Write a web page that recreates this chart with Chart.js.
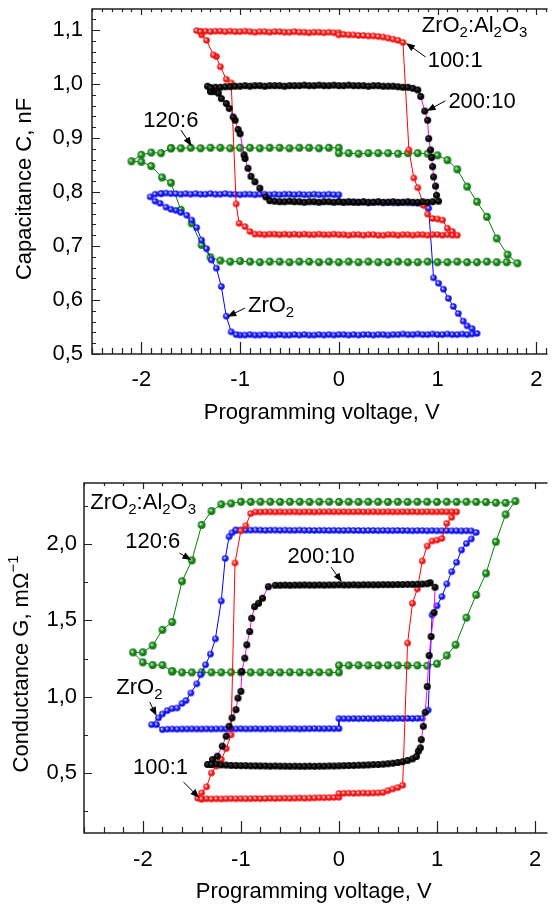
<!DOCTYPE html>
<html lang="en">
<head>
<meta charset="UTF-8">
<title>C-V and G-V hysteresis</title>
<script src="https://cdn.jsdelivr.net/npm/chart.js"></script>
<style>
  body, html { margin: 0; padding: 0; background: #fff; overflow: hidden; }
  .box { position: absolute; left: 0; width: 552px; }
  #top { top: 0; height: 440px; }
  #bottom { top: 440px; height: 469px; }
</style>
</head>
<body>
<div class="box" id="top"><canvas id="capChart" width="552" height="440"></canvas></div>
<div class="box" id="bottom"><canvas id="condChart" width="552" height="469"></canvas></div>
<script>
// ---- tick labels ----
const voltTicks = [-2, -1, 0, 1, 2];
const capTicks = [0.5, 0.6, 0.7, 0.8, 0.9, 1.0, 1.1];
const condTicks = [0.5, 1.0, 1.5, 2.0];

// ---- capacitance (top) ----
const capRedV = [-1.40,-1.35,-1.30,-1.25,-1.20,-1.15,-1.10,-1.05,-1.00,-0.95,-0.90,-0.85,-0.80,-0.75,-0.70,-0.65,-0.60,-0.55,-0.50,-0.45,-0.40,-0.35,-0.30,-0.25,-0.20,-0.15,-0.10,-0.05,0.00,
  0.00,0.05,0.10,0.15,0.20,0.25,0.30,0.35,0.40,0.45,0.50,0.55,0.60,0.65,
  0.71,0.76,0.80,0.86,0.90,0.95,1.00,1.05,1.10,1.15,1.20,
  1.15,1.10,1.05,1.00,0.95,0.90,0.85,0.80,0.75,0.70,0.65,0.60,0.55,0.50,0.45,0.40,0.35,0.30,0.25,0.20,0.15,0.10,0.05,0.00,-0.05,-0.10,-0.15,-0.20,-0.25,-0.30,-0.35,-0.40,-0.45,-0.50,-0.55,-0.60,-0.65,-0.70,-0.75,-0.80,-0.85,
  -0.90,-0.95,-1.01,-1.04,-1.09,-1.14,-1.20,-1.24,-1.27,-1.34,-1.39,-1.44,-1.40];
const capRedC = [1.097,1.098,1.097,1.098,1.098,1.097,1.098,1.097,1.097,1.098,1.097,1.096,1.097,1.097,1.096,1.097,1.097,1.096,1.096,1.097,1.096,1.096,1.095,1.096,1.096,1.095,1.096,1.095,1.095,
  1.091,1.092,1.091,1.091,1.090,1.090,1.089,1.089,1.088,1.087,1.085,1.083,1.081,1.077,
  0.878,0.826,0.808,0.775,0.759,0.751,0.750,0.748,0.733,0.727,0.720,
  0.720,0.721,0.720,0.721,0.721,0.720,0.721,0.721,0.720,0.721,0.721,0.720,0.721,0.721,0.720,0.720,0.721,0.721,0.720,0.721,0.721,0.720,0.721,0.721,0.722,0.721,0.721,0.722,0.721,0.721,0.722,0.721,0.722,0.721,0.722,0.721,0.722,0.722,0.721,0.722,0.722,
  0.727,0.736,0.742,0.778,1.002,1.009,1.032,1.051,1.054,1.081,1.091,1.099,1.097];

const capBlueV = [-1.80,-1.75,-1.70,-1.65,-1.60,-1.55,-1.50,-1.45,-1.40,-1.35,-1.30,-1.25,-1.20,-1.15,-1.10,-1.05,-1.00,-0.95,-0.90,-0.85,-0.80,-0.75,-0.70,-0.65,-0.60,-0.55,-0.50,-0.45,-0.40,-0.35,-0.30,-0.25,-0.20,-0.15,-0.10,-0.05,0.00,
  0.00,0.05,0.10,0.15,0.20,0.25,0.30,0.35,0.40,0.45,0.50,0.55,0.60,0.65,0.70,0.75,0.80,0.85,0.91,
  0.96,1.01,1.06,1.11,1.16,1.21,1.26,1.30,1.35,1.40,
  1.35,1.30,1.25,1.20,1.15,1.10,1.05,1.00,0.95,0.90,0.85,0.80,0.75,0.70,0.65,0.60,0.55,0.50,0.45,0.40,0.35,0.30,0.25,0.20,0.15,0.10,0.05,0.00,-0.05,-0.10,-0.15,-0.20,-0.25,-0.30,-0.35,-0.40,-0.45,-0.50,-0.55,-0.60,-0.65,-0.70,-0.75,-0.80,-0.85,-0.90,-0.95,-1.00,
  -1.04,-1.09,-1.14,-1.19,-1.24,-1.29,-1.34,-1.39,-1.44,-1.49,-1.54,-1.60,-1.65,-1.70,-1.75,-1.81,-1.86,-1.91,-1.86,-1.80];
const capBlueC = [0.797,0.798,0.797,0.797,0.796,0.797,0.796,0.797,0.796,0.796,0.797,0.796,0.796,0.797,0.796,0.796,0.795,0.796,0.796,0.795,0.796,0.796,0.795,0.796,0.795,0.796,0.796,0.795,0.796,0.795,0.795,0.796,0.795,0.795,0.796,0.795,0.795,
  0.782,0.781,0.781,0.782,0.781,0.781,0.780,0.781,0.781,0.780,0.781,0.780,0.780,0.781,0.780,0.780,0.779,0.778,0.770,
  0.641,0.631,0.620,0.603,0.588,0.575,0.561,0.552,0.547,0.538,
  0.537,0.536,0.537,0.536,0.536,0.537,0.536,0.536,0.537,0.536,0.536,0.537,0.536,0.536,0.537,0.536,0.536,0.535,0.536,0.536,0.535,0.536,0.536,0.535,0.536,0.535,0.536,0.536,0.535,0.536,0.535,0.536,0.535,0.535,0.536,0.535,0.536,0.535,0.535,0.536,0.535,0.535,0.536,0.535,0.535,0.536,0.535,0.535,
  0.536,0.541,0.570,0.625,0.659,0.674,0.695,0.711,0.734,0.748,0.757,0.762,0.766,0.768,0.772,0.779,0.783,0.791,0.796,0.797];

const capBlackV = [-1.30,-1.25,-1.20,-1.15,-1.10,-1.05,-1.00,-0.95,-0.90,-0.85,-0.80,-0.75,-0.70,-0.65,-0.60,-0.55,-0.50,-0.45,-0.40,-0.35,-0.30,-0.25,-0.20,-0.15,-0.10,-0.05,0.00,0.05,0.10,0.15,0.20,0.25,0.30,0.35,0.40,0.45,0.50,0.55,0.60,0.65,0.70,0.75,0.80,
  0.83,0.87,0.90,0.91,0.93,0.94,0.95,0.96,0.98,0.99,1.01,
  0.95,0.90,0.85,0.80,0.75,0.70,0.65,0.60,0.55,0.50,0.45,0.40,0.35,0.30,0.25,0.20,0.15,0.10,0.05,0.00,-0.05,-0.10,-0.15,-0.20,-0.25,-0.30,-0.35,-0.40,-0.45,-0.50,-0.55,-0.60,-0.65,-0.70,
  -0.74,-0.80,-0.85,-0.89,-0.92,-0.95,-0.96,-1.00,-1.02,-1.05,-1.07,-1.11,-1.14,-1.19,-1.22,-1.27,-1.30,-1.33,-1.30];
const capBlackC = [0.993,0.994,0.994,0.995,0.995,0.996,0.996,0.997,0.996,0.997,0.997,0.996,0.997,0.997,0.997,0.996,0.997,0.997,0.997,0.998,0.997,0.997,0.998,0.997,0.997,0.998,0.997,0.997,0.998,0.997,0.997,0.997,0.996,0.997,0.997,0.996,0.996,0.996,0.995,0.994,0.994,0.992,0.989,
  0.977,0.950,0.933,0.899,0.878,0.864,0.847,0.828,0.811,0.794,0.783,
  0.782,0.781,0.782,0.781,0.781,0.782,0.781,0.781,0.782,0.781,0.781,0.782,0.781,0.781,0.782,0.781,0.781,0.782,0.781,0.782,0.781,0.782,0.782,0.781,0.782,0.782,0.781,0.782,0.782,0.783,0.782,0.782,0.783,0.784,
  0.791,0.807,0.819,0.829,0.844,0.862,0.869,0.908,0.916,0.933,0.939,0.955,0.964,0.973,0.983,0.986,0.986,0.996,0.993];

const capGreenV = [-1.70,-1.60,-1.50,-1.40,-1.30,-1.20,-1.10,-1.00,-0.90,-0.80,-0.70,-0.60,-0.50,-0.40,-0.30,-0.20,-0.10,0.00,
  0.00,0.10,0.20,0.30,0.40,0.50,0.60,0.70,0.80,0.90,
  1.00,1.10,1.20,1.30,1.40,1.50,1.60,1.71,1.81,
  1.70,1.60,1.50,1.40,1.30,1.20,1.10,1.00,0.90,0.80,0.70,0.60,0.50,0.40,0.30,0.20,0.10,0.00,-0.10,-0.20,-0.30,-0.40,-0.50,-0.60,-0.70,-0.80,-0.90,-1.00,-1.10,-1.20,-1.30,
  -1.39,-1.49,-1.60,-1.70,-1.79,-1.90,-2.00,-2.10,-2.00,-1.90,-1.80,-1.70];
const capGreenC = [0.881,0.881,0.882,0.881,0.882,0.882,0.881,0.882,0.882,0.881,0.882,0.882,0.881,0.882,0.882,0.881,0.882,0.882,
  0.872,0.872,0.871,0.872,0.872,0.872,0.871,0.872,0.872,0.871,
  0.868,0.859,0.842,0.810,0.782,0.754,0.714,0.684,0.668,
  0.670,0.670,0.671,0.670,0.670,0.671,0.670,0.670,0.671,0.670,0.670,0.671,0.670,0.670,0.671,0.670,0.671,0.670,0.671,0.670,0.671,0.671,0.670,0.671,0.671,0.670,0.671,0.672,0.671,0.673,0.679,
  0.702,0.742,0.767,0.817,0.827,0.848,0.856,0.857,0.869,0.873,0.872,0.881];

// ---- conductance (bottom) ----
const condRedV = [-1.40,-1.35,-1.30,-1.25,-1.20,-1.15,-1.10,-1.05,-1.00,-0.95,-0.90,-0.85,-0.80,-0.75,-0.70,-0.65,-0.60,-0.55,-0.50,-0.45,-0.40,-0.35,-0.30,-0.25,-0.20,-0.15,-0.10,-0.05,0.00,
  0.00,0.05,0.10,0.15,0.20,0.25,0.30,0.35,0.40,0.45,0.50,0.55,0.60,0.65,
  0.70,0.75,0.80,0.85,0.90,0.95,1.00,1.05,1.10,1.15,1.20,
  1.15,1.10,1.05,1.00,0.95,0.90,0.85,0.80,0.75,0.70,0.65,0.60,0.55,0.50,0.45,0.40,0.35,0.30,0.25,0.20,0.15,0.10,0.05,0.00,-0.05,-0.10,-0.15,-0.20,-0.25,-0.30,-0.35,-0.40,-0.45,-0.50,-0.55,-0.60,-0.65,-0.70,-0.75,-0.80,-0.85,
  -0.90,-0.95,-1.00,-1.06,-1.10,-1.15,-1.20,-1.25,-1.30,-1.35,-1.40,-1.44,-1.40];
const condRedG = [0.330,0.331,0.330,0.331,0.330,0.331,0.332,0.331,0.332,0.331,0.332,0.333,0.332,0.333,0.334,0.333,0.334,0.335,0.334,0.335,0.336,0.335,0.336,0.337,0.338,0.338,0.339,0.340,0.341,
  0.366,0.367,0.368,0.367,0.368,0.369,0.368,0.369,0.370,0.372,0.385,0.395,0.405,0.420,
  1.351,1.612,1.706,1.889,1.987,2.020,2.026,2.037,2.135,2.175,2.211,
  2.212,2.211,2.212,2.211,2.211,2.212,2.211,2.211,2.212,2.211,2.212,2.211,2.211,2.212,2.211,2.211,2.212,2.211,2.211,2.212,2.211,2.211,2.212,2.211,2.211,2.212,2.211,2.211,2.210,2.211,2.211,2.210,2.211,2.211,2.210,2.211,2.210,2.211,2.211,2.210,2.210,
  2.200,2.120,2.087,1.876,0.750,0.660,0.590,0.545,0.500,0.410,0.370,0.335,0.330];

const condBlueV = [-1.05,-1.00,-0.95,-0.90,-0.85,-0.80,-0.75,-0.70,-0.65,-0.60,-0.55,-0.50,-0.45,-0.40,-0.35,-0.30,-0.25,-0.20,-0.15,-0.10,-0.05,0.00,0.05,0.10,0.15,0.20,0.25,0.30,0.35,0.40,0.45,0.50,0.55,0.60,0.65,0.70,0.75,0.80,0.85,0.90,0.95,1.00,1.05,1.10,1.15,1.20,1.25,1.30,1.35,1.40,
  1.35,1.30,1.25,1.20,1.15,1.10,1.05,1.00,0.95,0.91,
  0.85,0.80,0.75,0.70,0.65,0.60,0.55,0.50,0.45,0.40,0.35,0.30,0.25,0.20,0.15,0.10,0.05,0.00,
  0.00,-0.05,-0.10,-0.15,-0.20,-0.25,-0.30,-0.35,-0.40,-0.45,-0.50,-0.55,-0.60,-0.65,-0.70,-0.75,-0.80,-0.85,-0.90,-0.95,-1.00,-1.05,-1.10,-1.15,-1.20,-1.25,-1.30,-1.35,-1.40,-1.45,-1.50,-1.55,-1.60,-1.65,-1.70,-1.75,
  -1.80,-1.86,-1.91,-1.84,-1.80,-1.75,-1.70,-1.65,-1.60,-1.56,-1.51,-1.45,-1.41,-1.36,-1.31,-1.26,-1.20,-1.16,-1.12,-1.09,-1.05];
const condBlueG = [2.091,2.092,2.091,2.091,2.092,2.091,2.090,2.091,2.091,2.090,2.091,2.090,2.090,2.091,2.090,2.090,2.089,2.090,2.090,2.089,2.090,2.089,2.089,2.090,2.089,2.089,2.088,2.089,2.089,2.088,2.089,2.088,2.088,2.089,2.088,2.088,2.087,2.088,2.088,2.087,2.088,2.087,2.087,2.088,2.087,2.087,2.086,2.087,2.086,2.076,
  2.033,2.004,1.961,1.880,1.819,1.739,1.656,1.595,1.536,0.912,
  0.859,0.858,0.857,0.858,0.857,0.858,0.857,0.857,0.858,0.857,0.856,0.857,0.857,0.856,0.857,0.856,0.856,0.857,
  0.791,0.790,0.791,0.790,0.790,0.791,0.790,0.790,0.789,0.790,0.790,0.789,0.790,0.789,0.790,0.789,0.789,0.790,0.789,0.789,0.790,0.789,0.789,0.788,0.789,0.789,0.788,0.789,0.788,0.788,0.789,0.788,0.788,0.787,0.788,0.787,
  0.784,0.817,0.817,0.861,0.887,0.909,0.922,0.926,0.956,0.975,1.024,1.084,1.144,1.209,1.279,1.379,1.627,1.906,2.048,2.074,2.091];

const condBlackV = [-1.30,-1.25,-1.20,-1.15,-1.10,-1.05,-1.00,-0.95,-0.90,-0.85,-0.80,-0.75,-0.70,-0.65,-0.60,-0.55,-0.50,-0.45,-0.40,-0.35,-0.30,-0.25,-0.20,-0.15,-0.10,-0.05,0.00,0.05,0.10,0.15,0.20,0.25,0.30,0.35,0.40,0.45,0.50,0.55,0.60,0.65,0.70,0.75,
  0.79,0.81,0.83,0.84,0.86,0.88,0.90,0.92,0.94,0.97,0.98,0.93,
  0.90,0.85,0.80,0.75,0.70,0.65,0.60,0.55,0.50,0.45,0.40,0.35,0.30,0.25,0.20,0.15,0.10,0.05,0.00,-0.05,-0.10,-0.15,-0.20,-0.25,-0.30,-0.35,-0.40,-0.45,-0.50,-0.55,-0.60,-0.65,
  -0.72,-0.78,-0.82,-0.86,-0.89,-0.91,-0.94,-0.96,-0.99,-1.00,-1.03,-1.05,-1.09,-1.12,-1.15,-1.19,-1.24,-1.29,-1.34,-1.30];
const condBlackG = [0.556,0.560,0.553,0.552,0.550,0.549,0.548,0.548,0.547,0.547,0.546,0.546,0.545,0.546,0.545,0.545,0.544,0.545,0.544,0.544,0.545,0.544,0.545,0.545,0.546,0.546,0.547,0.548,0.549,0.550,0.551,0.552,0.553,0.555,0.556,0.558,0.561,0.564,0.569,0.574,0.582,0.593,
  0.608,0.643,0.665,0.719,0.806,0.898,1.067,1.270,1.394,1.551,1.717,1.747,
  1.740,1.738,1.737,1.736,1.736,1.735,1.735,1.734,1.734,1.734,1.733,1.733,1.733,1.733,1.732,1.733,1.732,1.732,1.733,1.732,1.732,1.731,1.732,1.731,1.731,1.732,1.731,1.731,1.730,1.731,1.730,1.730,
  1.721,1.645,1.612,1.590,1.514,1.427,1.340,1.253,1.165,1.035,0.991,0.915,0.861,0.806,0.741,0.676,0.610,0.588,0.556,0.556];

const condGreenV = [-1.70,-1.60,-1.50,-1.40,-1.30,-1.20,-1.10,-1.00,-0.90,-0.80,-0.70,-0.60,-0.50,-0.40,-0.30,-0.20,-0.10,0.00,
  0.00,0.10,0.20,0.30,0.40,0.50,0.60,0.70,0.80,0.90,
  1.00,1.10,1.19,1.30,1.40,1.50,1.60,1.70,1.80,
  1.70,1.60,1.50,1.40,1.30,1.20,1.10,1.00,0.90,0.80,0.70,0.60,0.50,0.40,0.30,0.20,0.10,0.00,-0.10,-0.20,-0.30,-0.40,-0.50,-0.60,-0.70,-0.80,-0.90,-1.00,
  -1.10,-1.20,-1.30,-1.40,-1.50,-1.60,-1.70,-1.80,-1.90,-2.00,-2.10,-2.00,-1.90,-1.80,-1.70];
const condGreenG = [1.166,1.159,1.159,1.160,1.159,1.159,1.160,1.159,1.159,1.160,1.159,1.159,1.160,1.159,1.159,1.160,1.159,1.159,
  1.205,1.205,1.206,1.205,1.205,1.206,1.205,1.204,1.205,1.203,
  1.216,1.270,1.340,1.518,1.667,1.808,2.015,2.194,2.281,
  2.270,2.271,2.275,2.276,2.277,2.276,2.277,2.276,2.277,2.277,2.276,2.277,2.276,2.277,2.277,2.276,2.277,2.276,2.277,2.277,2.276,2.277,2.277,2.276,2.277,2.277,2.276,2.277,
  2.266,2.260,2.216,2.125,1.893,1.756,1.489,1.438,1.335,1.291,1.290,1.225,1.207,1.207,1.166];

// ---- drawing helpers ----
const FONT = '"Liberation Sans", Arial, sans-serif';
const BIG = 22, SMALL = 15;
Chart.defaults.font.family = FONT;

function ball(base, light, r) {
  const c = document.createElement('canvas');
  const s = Math.ceil(2 * r + 2);
  c.width = c.height = s;
  const g = c.getContext('2d');
  const m = s / 2;
  const grad = g.createRadialGradient(m - r * 0.3, m - r * 0.3, r * 0.1, m, m, r);
  grad.addColorStop(0, light);
  grad.addColorStop(0.55, base);
  grad.addColorStop(1, base);
  g.fillStyle = grad;
  g.beginPath(); g.arc(m, m, r, 0, Math.PI * 2); g.fill();
  return c;
}
const redBall = ball('#f01010', '#ffd8d8', 3.3);
const blueBall = ball('#1010f0', '#d0d8ff', 3.3);
const greenBall = ball('#167d16', '#b8f0b8', 3.9);
const blackBall = ball('#000', '#444', 3.5);

function series(vs, ys, line, img) {
  return {
    data: vs.map((v, i) => ({ x: v, y: ys[i] })),
    showLine: true, borderColor: line, borderWidth: 1, tension: 0,
    pointStyle: img, pointRadius: 3.5, pointHoverRadius: 3.5
  };
}

function drawRich(ctx, parts, x, y, align) {
  let w = 0;
  parts.forEach(([t, m]) => { ctx.font = (m ? SMALL : BIG) + 'px ' + FONT; w += ctx.measureText(t).width; });
  let cx = align === 'center' ? x - w / 2 : x;
  ctx.textBaseline = 'middle'; ctx.textAlign = 'left'; ctx.fillStyle = '#000';
  parts.forEach(([t, m]) => {
    ctx.font = (m ? SMALL : BIG) + 'px ' + FONT;
    const dy = m === 1 ? 7 : m === 2 ? -8 : 0;
    ctx.fillText(t, cx, y + dy);
    cx += ctx.measureText(t).width;
  });
}

function arrow(ctx, x1, y1, x2, y2) {
  const a = Math.atan2(y2 - y1, x2 - x1);
  ctx.strokeStyle = '#000'; ctx.fillStyle = '#000'; ctx.lineWidth = 1;
  ctx.beginPath(); ctx.moveTo(x1, y1); ctx.lineTo(x2 - 6 * Math.cos(a), y2 - 6 * Math.sin(a)); ctx.stroke();
  ctx.beginPath();
  ctx.moveTo(x2, y2);
  ctx.lineTo(x2 - 9 * Math.cos(a) + 3.5 * Math.sin(a), y2 - 9 * Math.sin(a) - 3.5 * Math.cos(a));
  ctx.lineTo(x2 - 9 * Math.cos(a) - 3.5 * Math.sin(a), y2 - 9 * Math.sin(a) + 3.5 * Math.cos(a));
  ctx.closePath(); ctx.fill();
}

// frame with inward ticks, annotations and axis titles
function decor(o) {
  return {
    id: 'decor',
    afterDraw(chart) {
      const { ctx, chartArea: a, scales: { x, y } } = chart;
      ctx.save();
      ctx.strokeStyle = '#222'; ctx.lineWidth = 1.5;
      ctx.beginPath();
      ctx.moveTo(a.right, a.top); ctx.lineTo(a.left, a.top);
      ctx.lineTo(a.left, a.bottom); ctx.lineTo(a.right, a.bottom);
      ctx.stroke();
      ctx.lineWidth = 1.2;
      ctx.beginPath();
      for (let i = Math.ceil(x.min / o.xMinor - 1e-6); i <= Math.floor(x.max / o.xMinor + 1e-6); i++) {
        const v = i * o.xMinor;
        const px = Math.round(x.getPixelForValue(v)) + 0.5;
        const major = Math.abs(v - Math.round(v)) < 1e-6;
        ctx.moveTo(px, a.bottom); ctx.lineTo(px, a.bottom - (major ? 12 : 6));
        ctx.moveTo(px, a.top); ctx.lineTo(px, a.top + (major ? 6 : 3));
      }
      for (let i = Math.ceil(y.min / o.yMinor - 1e-6); i <= Math.floor(y.max / o.yMinor + 1e-6); i++) {
        const v = i * o.yMinor;
        const py = Math.round(y.getPixelForValue(v)) + 0.5;
        const major = Math.abs(v / o.yMajor - Math.round(v / o.yMajor)) < 1e-6;
        ctx.moveTo(a.left, py); ctx.lineTo(a.left + (major ? 8 : 4), py);
      }
      ctx.stroke();
      o.notes.forEach(n => {
        drawRich(ctx, n.parts, x.getPixelForValue(n.at[0]), y.getPixelForValue(n.at[1]), 'left');
        if (n.arrow) arrow(ctx, x.getPixelForValue(n.arrow[0]), y.getPixelForValue(n.arrow[1]),
          x.getPixelForValue(n.arrow[2]), y.getPixelForValue(n.arrow[3]));
      });
      drawRich(ctx, o.xTitle, (a.left + a.right) / 2 + o.xTitleDx, o.xTitleY, 'center');
      ctx.translate(o.yTitleX, o.yTitleY);
      ctx.rotate(-Math.PI / 2);
      drawRich(ctx, o.yTitle, 0, 0, 'center');
      ctx.restore();
    }
  };
}

function noPad(s) { s.paddingTop = 0; s.paddingBottom = 0; s.paddingLeft = 0; s.paddingRight = 0; }

function makeChart(id, c) {
  return new Chart(document.getElementById(id), {
    type: 'scatter',
    data: { datasets: c.sets },
    options: {
      responsive: false, animation: false,
      layout: { padding: { top: c.padTop, right: 0, left: 0, bottom: 0 } },
      plugins: { legend: { display: false }, tooltip: { enabled: false } },
      scales: {
        x: {
          type: 'linear', min: c.xMin, max: c.xMax,
          grid: { display: false, drawTicks: false }, border: { display: false },
          afterBuildTicks: s => { s.ticks = voltTicks.map(v => ({ value: v })); },
          afterFit: s => { s.height = c.xH; noPad(s); },
          ticks: { padding: c.xPad, color: '#000', font: { size: BIG }, maxRotation: 0, autoSkip: false,
                   callback: v => String(v) }
        },
        y: {
          type: 'linear', min: c.yMin, max: c.yMax,
          grid: { display: false, drawTicks: false }, border: { display: false },
          afterBuildTicks: s => { s.ticks = c.yTicks.map(v => ({ value: v })); },
          afterFit: s => { s.width = c.yW; noPad(s); },
          ticks: { padding: c.yPad, color: '#000', font: { size: BIG }, autoSkip: false,
                   callback: v => v.toFixed(1).replace('.', ',') }
        }
      }
    },
    plugins: [decor(c.decor)]
  });
}

const xTitle = [['Programming voltage, V', 0]];
const alloy = [['ZrO', 0], ['2', 1], [':Al', 0], ['2', 1], ['O', 0], ['3', 1]];

makeChart('capChart', {
  sets: [
    series(capBlackV, capBlackC, '#ff00ff', blackBall),
    series(capRedV, capRedC, '#ff0000', redBall),
    series(capBlueV, capBlueC, '#0000ff', blueBall),
    series(capGreenV, capGreenC, '#008000', greenBall)
  ],
  padTop: 9, xH: 86, yW: 92, xPad: 13, yPad: 9,
  xMin: -2.5, xMax: 2.114, yMin: 0.5, yMax: 1.139, yTicks: capTicks,
  decor: {
    xMinor: 0.1, yMinor: 0.02, yMajor: 0.1,
    xTitle: xTitle, xTitleDx: 2, xTitleY: 413,
    yTitle: [['Capacitance C, nF', 0]], yTitleX: 25, yTitleY: 189,
    notes: [
      { parts: alloy, at: [0.84, 1.107] },
      { parts: [['100:1', 0]], at: [0.90, 1.042], arrow: [0.88, 1.050, 0.68, 1.076] },
      { parts: [['200:10', 0]], at: [1.11, 0.966], arrow: [1.08, 0.969, 0.89, 0.950] },
      { parts: [['120:6', 0]], at: [-1.98, 0.932], arrow: [-1.60, 0.915, -1.49, 0.885] },
      { parts: [['ZrO', 0], ['2', 1]], at: [-0.92, 0.589], arrow: [-0.95, 0.585, -1.13, 0.569] }
    ]
  }
});

makeChart('condChart', {
  sets: [
    series(condBlackV, condBlackG, '#ff00ff', blackBall),
    series(condRedV, condRedG, '#ff0000', redBall),
    series(condBlueV, condBlueG, '#0000ff', blueBall),
    series(condGreenV, condGreenG, '#008000', greenBall)
  ],
  padTop: 43, xH: 76, yW: 84, xPad: 14, yPad: 7,
  xMin: -2.6, xMax: 2.127, yMin: 0.107, yMax: 2.4, yTicks: condTicks,
  decor: {
    xMinor: 0.2, yMinor: 0.25, yMajor: 0.5,
    xTitle: xTitle, xTitleDx: -2, xTitleY: 452,
    yTitle: [['Conductance G, m\u03A9', 0], ['\u22121', 2]], yTitleX: 22, yTitleY: 224,
    notes: [
      { parts: alloy, at: [-2.535, 2.268] },
      { parts: [['120:6', 0]], at: [-2.18, 2.013], arrow: [-1.626, 1.941, -1.505, 1.895] },
      { parts: [['200:10', 0]], at: [-0.525, 1.915], arrow: [-0.081, 1.849, 0.03, 1.751] },
      { parts: [['ZrO', 0], ['2', 1]], at: [-2.27, 1.057], arrow: [-1.93, 0.965, -1.86, 0.874] },
      { parts: [['100:1', 0]], at: [-2.10, 0.533], arrow: [-1.586, 0.441, -1.424, 0.337] }
    ]
  }
});
</script>
</body>
</html>
